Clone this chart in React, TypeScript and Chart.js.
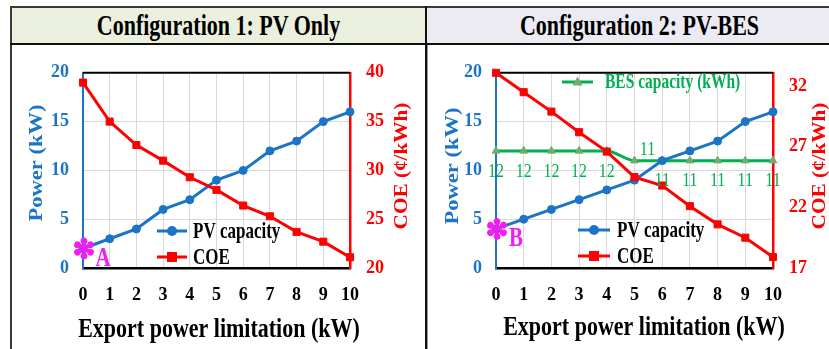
import React, { useEffect, useRef } from "react";
import { Chart, registerables } from "chart.js";

Chart.register(...registerables);

// ---------------- data ----------------
const exportLimits = ["0", "1", "2", "3", "4", "5", "6", "7", "8", "9", "10"];
const pvOnlyCapacity = [2, 3, 4, 6, 7, 9, 10, 12, 13, 15, 16];
const pvOnlyCOE = [39, 35, 32.6, 31, 29.3, 28, 26.4, 25.3, 23.7, 22.7, 21.1];
const pvBesCapacity = [4, 5, 6, 7, 8, 9, 11, 12, 13, 15, 16];
const besCapacity = [12, 12, 12, 12, 12, 11, 11, 11, 11, 11, 11];
const pvBesCOE = [33.1, 31.5, 29.9, 28.2, 26.6, 24.5, 23.8, 22.1, 20.6, 19.5, 17.9];
const powerTicks = [0, 5, 10, 15, 20];
const coeTicksPvOnly = [20, 25, 30, 35, 40];
const coeTicksPvBes = [17, 22, 27, 32];
const coeRangePvOnly = [20, 40];
const coeRangePvBes = [17, 33.1];
const powerRange = [0, 20];
const headerTitles = ["Configuration 1: PV Only", "Configuration 2: PV-BES"];
const markerLabels = ["A", "B"];

// ---------------- style ----------------
const FONT = '"Liberation Serif", "Times New Roman", serif';
const BLUE = "#1B74C6";
const RED = "#FF0000";
const GREEN = "#00B050";
const TRI = "#6FAE6F";
const MAGENTA = "#F01EF0";
const GRID = "#D9D9D9";

type Area = { left: number; top: number; right: number; bottom: number };
type PanelCfg = {
  pv: number[];
  coe: number[];
  bes?: number[];
  coeRange: number[];
  coeTicks: number[];
  marker: string;
  width: number;
  height: number;
  area: Area;
  powerTitle: [number, number];
  coeTitle: [number, number];
  xTitle: [number, number];
  legend: { x1: number; x2: number; textX: number; yPV: number; yCOE: number };
  besLegend?: { x1: number; x2: number; textX: number; y: number };
};

function stretchText(
  ctx: CanvasRenderingContext2D,
  text: string,
  x: number,
  y: number,
  size: number,
  color: string,
  sy: number,
  opts: { rot?: number; align?: CanvasTextAlign; weight?: string } = {}
) {
  ctx.save();
  ctx.translate(x, y);
  ctx.scale(1, sy);
  if (opts.rot) ctx.rotate(opts.rot);
  ctx.font = `${opts.weight ?? "bold"} ${size}px ${FONT}`;
  ctx.fillStyle = color;
  ctx.textAlign = opts.align ?? "center";
  ctx.textBaseline = "middle";
  ctx.fillText(text, 0, 0);
  ctx.restore();
}

function drawAsterisk(ctx: CanvasRenderingContext2D, x: number, y: number, r: number) {
  ctx.save();
  ctx.fillStyle = MAGENTA;
  for (let k = 0; k < 6; k++) {
    const a = Math.PI / 2 + (k * Math.PI) / 3;
    ctx.save();
    ctx.translate(x, y);
    ctx.rotate(a);
    // teardrop petal: narrow at centre, round at the tip
    ctx.beginPath();
    ctx.moveTo(0, 0);
    ctx.lineTo(r * 0.62, -r * 0.3);
    ctx.arc(r * 0.68, 0, r * 0.31, -Math.PI / 2 - 0.2, Math.PI / 2 + 0.2);
    ctx.closePath();
    ctx.fill();
    ctx.restore();
  }
  ctx.beginPath();
  ctx.arc(x, y, r * 0.22, 0, Math.PI * 2);
  ctx.fill();
  ctx.restore();
}

function legendLine(
  ctx: CanvasRenderingContext2D,
  x1: number,
  x2: number,
  y: number,
  color: string,
  marker: "circle" | "rect" | "triangle",
  fill: string
) {
  ctx.save();
  ctx.strokeStyle = color;
  ctx.lineWidth = 3;
  ctx.beginPath();
  ctx.moveTo(x1, y);
  ctx.lineTo(x2, y);
  ctx.stroke();
  const cx = (x1 + x2) / 2;
  ctx.fillStyle = fill;
  ctx.beginPath();
  if (marker === "circle") ctx.arc(cx, y, 5, 0, Math.PI * 2);
  else if (marker === "rect") ctx.rect(cx - 5, y - 5, 10, 10);
  else {
    ctx.moveTo(cx, y - 5.5);
    ctx.lineTo(cx + 5, y + 3.5);
    ctx.lineTo(cx - 5, y + 3.5);
    ctx.closePath();
  }
  ctx.fill();
  ctx.restore();
}

function buildConfig(cfg: PanelCfg): any {
  const tickFont = { family: FONT, size: 18, weight: "bold" as const };
  const datasets: any[] = [
    {
      label: "COE",
      data: cfg.coe,
      yAxisID: "yCOE",
      borderColor: RED,
      backgroundColor: RED,
      borderWidth: 3,
      pointStyle: "rect",
      pointRadius: 5,
      pointBackgroundColor: RED,
      pointBorderColor: RED,
      pointBorderWidth: 1,
      tension: 0,
      clip: false,
    },
    {
      label: "PV capacity",
      data: cfg.pv,
      yAxisID: "yPower",
      borderColor: BLUE,
      backgroundColor: BLUE,
      borderWidth: 3,
      pointStyle: "circle",
      pointRadius: 4,
      pointBackgroundColor: BLUE,
      pointBorderColor: BLUE,
      pointBorderWidth: 1,
      tension: 0,
      clip: false,
    },
  ];
  if (cfg.bes) {
    datasets.push({
      label: "BES capacity (kWh)",
      data: cfg.bes,
      yAxisID: "yPower",
      borderColor: GREEN,
      backgroundColor: GREEN,
      borderWidth: 3,
      pointStyle: "triangle",
      pointRadius: 4.5,
      pointBackgroundColor: TRI,
      pointBorderColor: TRI,
      pointBorderWidth: 1,
      cubicInterpolationMode: "monotone",
      clip: false,
    });
  }

  const overlay = {
    id: "overlay",
    beforeDatasetsDraw(chart: any) {
      const { ctx, chartArea } = chart;
      ctx.save();
      ctx.strokeStyle = "#000";
      ctx.lineWidth = 2;
      ctx.beginPath();
      ctx.moveTo(chartArea.left, chartArea.top);
      ctx.lineTo(chartArea.right, chartArea.top);
      ctx.stroke();
      ctx.restore();
    },
    afterDraw(chart: any) {
      const { ctx } = chart;
      const xs = chart.scales.x;
      const yp = chart.scales.yPower;
      // axis titles
      stretchText(ctx, "Power (kW)", cfg.powerTitle[0], cfg.powerTitle[1], 18, BLUE, 1.25, { rot: -Math.PI / 2 });
      stretchText(ctx, "COE (¢/kWh)", cfg.coeTitle[0], cfg.coeTitle[1], 18, RED, 1.18, { rot: -Math.PI / 2 });
      stretchText(ctx, "Export power limitation (kW)", cfg.xTitle[0], cfg.xTitle[1], 22, "#000", 1.23);
      // legend
      const L = cfg.legend;
      legendLine(ctx, L.x1, L.x2, L.yPV, BLUE, "circle", BLUE);
      legendLine(ctx, L.x1, L.x2, L.yCOE, RED, "rect", RED);
      stretchText(ctx, "PV capacity", L.textX, L.yPV + 1, 17, "#000", 1.33, { align: "left" });
      stretchText(ctx, "COE", L.textX, L.yCOE + 1, 17, "#000", 1.33, { align: "left" });
      if (cfg.bes && cfg.besLegend) {
        const B = cfg.besLegend;
        legendLine(ctx, B.x1, B.x2, B.y, GREEN, "triangle", TRI);
        stretchText(ctx, "BES capacity (kWh)", B.textX, B.y + 1, 15.5, GREEN, 1.35, { align: "left" });
        // data labels
        cfg.bes.forEach((v, i) => {
          const px = xs.getPixelForValue(i);
          const py = yp.getPixelForValue(v);
          const changed = i > 0 && v !== cfg.bes![i - 1];
          if (changed) stretchText(ctx, String(v), px + 13, py - 10, 16, GREEN, 1.15, { weight: "normal" });
          else stretchText(ctx, String(v), px, py + 21, 16, GREEN, 1.15, { weight: "normal" });
        });
      }
      // scenario marker
      const mx = xs.getPixelForValue(0);
      const my = yp.getPixelForValue(cfg.pv[0]);
      drawAsterisk(ctx, mx + 1, my, 11);
      stretchText(ctx, cfg.marker, mx + 20, my + 10, 21, MAGENTA, 1.3);
    },
  };

  return {
    type: "line",
    data: { labels: exportLimits, datasets },
    options: {
      responsive: false,
      animation: false,
      events: [],
      layout: { padding: { top: cfg.area.top, left: 0, right: 0, bottom: 0 } },
      plugins: { legend: { display: false }, tooltip: { enabled: false }, title: { display: false } },
      scales: {
        x: {
          type: "category",
          offset: false,
          grid: { color: GRID, lineWidth: 1, drawTicks: false },
          border: { color: "#000", width: 2.5 },
          ticks: { color: "#000", font: tickFont, padding: 17, maxRotation: 0, autoSkip: false },
          afterFit: (s: any) => {
            s.height = cfg.height - cfg.area.bottom;
          },
        },
        yPower: {
          type: "linear",
          position: "left",
          min: powerRange[0],
          max: powerRange[1],
          grid: { color: GRID, lineWidth: 1, drawTicks: false },
          border: { color: BLUE, width: 2 },
          ticks: { color: BLUE, font: tickFont, padding: 14 },
          afterBuildTicks: (s: any) => {
            s.ticks = powerTicks.map((v) => ({ value: v }));
          },
          afterFit: (s: any) => {
            s.width = cfg.area.left;
          },
        },
        yCOE: {
          type: "linear",
          position: "right",
          min: cfg.coeRange[0],
          max: cfg.coeRange[1],
          grid: { display: false, drawTicks: false },
          border: { color: RED, width: 2.5 },
          ticks: { color: RED, font: tickFont, padding: 16 },
          afterBuildTicks: (s: any) => {
            s.ticks = cfg.coeTicks.map((v) => ({ value: v }));
          },
          afterFit: (s: any) => {
            s.width = cfg.width - cfg.area.right;
          },
        },
      },
    },
    plugins: [overlay],
  };
}

function ChartPanel({ cfg }: { cfg: PanelCfg }) {
  const ref = useRef<HTMLCanvasElement>(null);
  useEffect(() => {
    const chart = new Chart(ref.current as HTMLCanvasElement, buildConfig(cfg));
    return () => chart.destroy();
  }, [cfg]);
  return (
    <canvas
      ref={ref}
      width={cfg.width}
      height={cfg.height}
      style={{ display: "block", width: cfg.width, height: cfg.height }}
    />
  );
}

const panel1: PanelCfg = {
  pv: pvOnlyCapacity,
  coe: pvOnlyCOE,
  coeRange: coeRangePvOnly,
  coeTicks: coeTicksPvOnly,
  marker: markerLabels[0],
  width: 412,
  height: 303,
  area: { left: 70, top: 17, right: 337, bottom: 222 },
  powerTitle: [24, 117],
  coeTitle: [389, 120],
  xTitle: [206, 284],
  legend: { x1: 144, x2: 174, textX: 180, yPV: 185, yCOE: 211 },
};

const panel2: PanelCfg = {
  pv: pvBesCapacity,
  coe: pvBesCOE,
  bes: besCapacity,
  coeRange: coeRangePvBes,
  coeTicks: coeTicksPvBes,
  marker: markerLabels[1],
  width: 420,
  height: 303,
  area: { left: 68, top: 19, right: 345, bottom: 222 },
  powerTitle: [25, 120],
  coeTitle: [392, 120],
  xTitle: [216, 282],
  legend: { x1: 150, x2: 182, textX: 189, yPV: 184, yCOE: 210 },
  besLegend: { x1: 134, x2: 165, textX: 177, y: 36 },
};

function Header({ left, width, bg, text }: { left: number; width: number; bg: string; text: string }) {
  return (
    <div
      style={{
        position: "absolute",
        left,
        top: 8,
        width,
        height: 35,
        background: bg,
        display: "flex",
        alignItems: "center",
        justifyContent: "center",
      }}
    >
      <span
        style={{
          display: "inline-block",
          font: `bold 22px ${FONT}`,
          color: "#000",
          transform: "scaleY(1.3)",
          whiteSpace: "nowrap",
        }}
      >
        {text}
      </span>
    </div>
  );
}

export default function App() {
  return (
    <div
      style={{
        position: "fixed",
        left: 0,
        top: 0,
        width: 829,
        height: 349,
        overflow: "hidden",
        background: "#fff",
      }}
    >
      <Header left={12} width={413} bg="#EAF0DD" text={headerTitles[0]} />
      <Header left={427} width={425} bg="#ECEAF2" text={headerTitles[1]} />
      {/* frame */}
      <div style={{ position: "absolute", left: 10, top: 6, width: 900, height: 400, border: "2px solid #3a3a3a", boxSizing: "border-box" }} />
      <div style={{ position: "absolute", left: 10, top: 43, width: 900, height: 2, background: "#111" }} />
      <div style={{ position: "absolute", left: 425, top: 6, width: 2, height: 400, background: "#111" }} />
      <div style={{ position: "absolute", left: 427, top: 45, width: 1, height: 400, background: "#999" }} />
      <div style={{ position: "absolute", left: 13, top: 46 }}>
        <ChartPanel cfg={panel1} />
      </div>
      <div style={{ position: "absolute", left: 428, top: 46 }}>
        <ChartPanel cfg={panel2} />
      </div>
    </div>
  );
}
